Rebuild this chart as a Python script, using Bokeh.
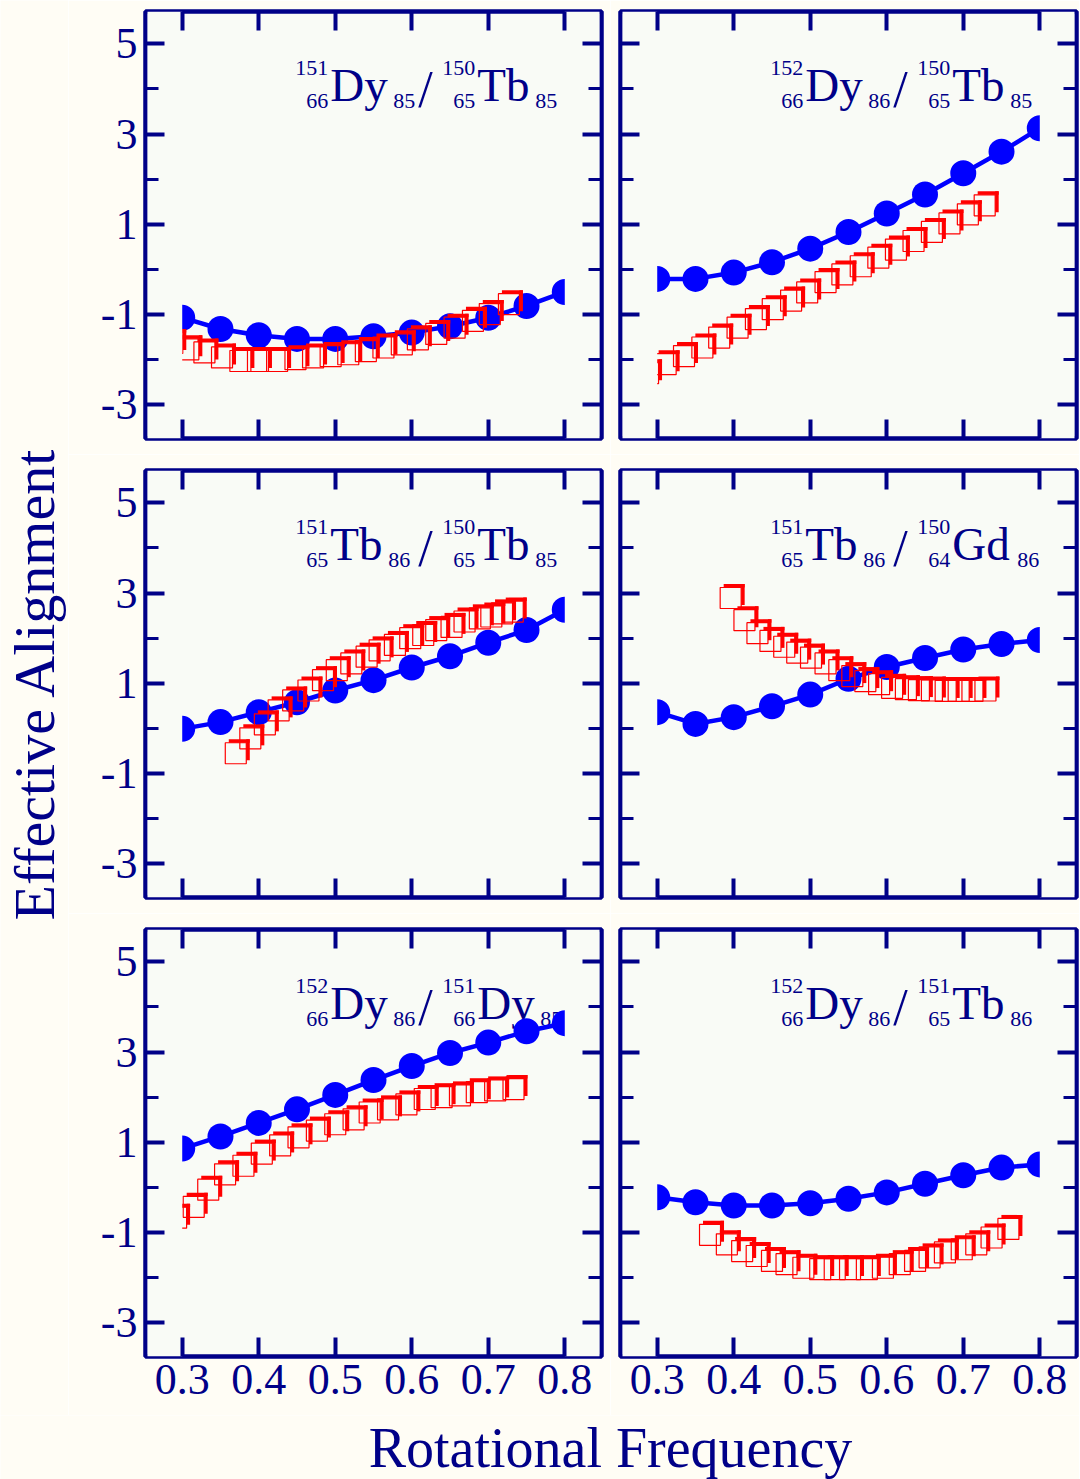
import math
from bokeh.plotting import figure
from bokeh.models import Range1d, FixedTicker, LinearAxis, ColumnDataSource
from bokeh.layouts import row, column
from bokeh.embed import file_html
from bokeh.resources import INLINE
from bokeh.core.properties import value
from bokeh.transform import dodge

# ---------------- data ----------------
omega = [0.30, 0.35, 0.40, 0.45, 0.50, 0.55, 0.60, 0.65, 0.70, 0.75, 0.80]

blue_1 = [-1.07, -1.32, -1.46, -1.54, -1.54, -1.48, -1.40, -1.26, -1.07, -0.81, -0.50]
blue_2 = [-0.21, -0.21, -0.07, 0.16, 0.46, 0.83, 1.24, 1.66, 2.13, 2.61, 3.13]
blue_3 = [-0.01, 0.14, 0.36, 0.58, 0.84, 1.07, 1.35, 1.60, 1.90, 2.18, 2.63]
blue_4 = [0.36, 0.10, 0.25, 0.49, 0.75, 1.10, 1.36, 1.56, 1.75, 1.87, 1.96]
blue_5 = [0.86, 1.13, 1.43, 1.73, 2.05, 2.38, 2.69, 2.98, 3.21, 3.46, 3.64]
blue_6 = [-0.22, -0.33, -0.40, -0.40, -0.35, -0.25, -0.11, 0.08, 0.27, 0.44, 0.51]

red_x_1 = [0.287, 0.308, 0.329, 0.352, 0.376, 0.399, 0.424, 0.448, 0.471, 0.494,
           0.517, 0.540, 0.563, 0.587, 0.608, 0.632, 0.656, 0.680, 0.702, 0.727]
red_y_1 = [-1.63, -1.77, -1.84, -1.95, -2.03, -2.03, -2.03, -1.99, -1.95, -1.92,
           -1.88, -1.81, -1.73, -1.66, -1.55, -1.43, -1.29, -1.14, -0.99, -0.77]

red_x_2 = [0.288, 0.311, 0.335, 0.359, 0.381, 0.405, 0.429, 0.451, 0.475, 0.496,
           0.520, 0.542, 0.566, 0.589, 0.612, 0.635, 0.659, 0.682, 0.706, 0.728]
red_y_2 = [-2.30, -2.10, -1.92, -1.73, -1.51, -1.29, -1.10, -0.88, -0.69, -0.51,
           -0.28, -0.11, 0.07, 0.26, 0.44, 0.63, 0.83, 1.02, 1.22, 1.42]

red_x_3 = [0.370, 0.389, 0.408, 0.426, 0.445, 0.465, 0.484, 0.502, 0.521, 0.541,
           0.558, 0.578, 0.598, 0.615, 0.632, 0.652, 0.669, 0.689, 0.704, 0.718, 0.732]
red_y_3 = [-0.55, -0.22, 0.09, 0.40, 0.62, 0.84, 1.07, 1.29, 1.44, 1.59,
           1.73, 1.85, 2.00, 2.07, 2.18, 2.25, 2.37, 2.44, 2.48, 2.55, 2.59]

red_x_4 = [0.396, 0.414, 0.431, 0.448, 0.466, 0.483, 0.501, 0.520, 0.538, 0.555,
           0.572, 0.590, 0.607, 0.625, 0.642, 0.659, 0.677, 0.694, 0.712, 0.729]
red_y_4 = [2.89, 2.40, 2.11, 1.94, 1.81, 1.68, 1.57, 1.44, 1.29, 1.16,
           1.05, 0.98, 0.90, 0.87, 0.85, 0.84, 0.83, 0.83, 0.83, 0.84]

red_x_5 = [0.292, 0.315, 0.334, 0.356, 0.380, 0.404, 0.428, 0.452, 0.476, 0.500,
           0.524, 0.545, 0.569, 0.593, 0.617, 0.639, 0.663, 0.685, 0.709, 0.733]
red_y_5 = [-0.67, -0.43, -0.05, 0.29, 0.48, 0.75, 0.93, 1.11, 1.26, 1.40,
           1.51, 1.66, 1.73, 1.84, 1.96, 2.00, 2.04, 2.11, 2.15, 2.18]

red_x_6 = [0.369, 0.391, 0.411, 0.430, 0.450, 0.469, 0.491, 0.513, 0.532, 0.552,
           0.574, 0.595, 0.617, 0.637, 0.656, 0.676, 0.698, 0.717, 0.737, 0.759]
red_y_6 = [-1.05, -1.26, -1.41, -1.52, -1.63, -1.70, -1.78, -1.81, -1.81, -1.81,
           -1.81, -1.78, -1.70, -1.63, -1.55, -1.44, -1.37, -1.26, -1.11, -0.92]

# (A1, Z1, symbol1, N1, A2, Z2, symbol2, N2)
title_1 = ["151", "66", "Dy", "85", "150", "65", "Tb", "85"]
title_2 = ["152", "66", "Dy", "86", "150", "65", "Tb", "85"]
title_3 = ["151", "65", "Tb", "86", "150", "65", "Tb", "85"]
title_4 = ["151", "65", "Tb", "86", "150", "64", "Gd", "86"]
title_5 = ["152", "66", "Dy", "86", "151", "66", "Dy", "85"]
title_6 = ["152", "66", "Dy", "86", "151", "65", "Tb", "86"]

x_ticks = [0.3, 0.4, 0.5, 0.6, 0.7, 0.8]
x_tick_labels = ["0.3", "0.4", "0.5", "0.6", "0.7", "0.8"]
y_ticks = [-3, -1, 1, 3, 5]
y_minor_ticks = [-2, 0, 2, 4]
y_tick_labels = ["-3", "-1", "1", "3", "5"]

x_title = "Rotational Frequency"
y_title = "Effective Alignment"

panels = [
    (blue_1, red_x_1, red_y_1, title_1),
    (blue_2, red_x_2, red_y_2, title_2),
    (blue_3, red_x_3, red_y_3, title_3),
    (blue_4, red_x_4, red_y_4, title_4),
    (blue_5, red_x_5, red_y_5, title_5),
    (blue_6, red_x_6, red_y_6, title_6),
]

# ---------------- style ----------------
NAVY = "#000088"
BLUE = "#0000ff"
RED = "#ff0000"
PAGE_BG = "#fffdf5"
PANEL_BG = "#f9fbf6"
FONT = "Liberation Serif"
MID = 0.3375  # em distance from alphabetic baseline to text middle

FW, FH = 456, 427
X0, X1 = 0.252, 0.848
Y0, Y1 = -3.747, 5.716
SX = (X1 - X0) / FW
SY = (Y1 - Y0) / FH

N_GAP = {"Dy": 63, "Tb": 58, "Gd": 65}

ROW_BOTTOM = [16, 16, 59]
ROW_H = [11 + FH + 16, 16 + FH + 16, 16 + FH + 59]
LEFT_W = 68
BOT_H = 64


def px_x(off):
    return x_ticks[0] + off * SX


def px_y(baseline_off, size):
    # place the middle of the text so that its baseline sits baseline_off px below frame top
    return Y1 - (baseline_off - MID * size) * SY


def make_axis(kind, show_labels):
    ax = LinearAxis()
    if kind == "x":
        ax.ticker = FixedTicker(ticks=x_ticks, minor_ticks=[])
        labels = x_tick_labels
        ticks = x_ticks
    else:
        ax.ticker = FixedTicker(ticks=y_ticks, minor_ticks=y_minor_ticks)
        labels = y_tick_labels
        ticks = y_ticks
    ax.axis_line_color = None
    ax.major_tick_in = 19
    ax.major_tick_out = 0
    ax.minor_tick_in = 13
    ax.minor_tick_out = 0
    ax.major_tick_line_color = NAVY
    ax.major_tick_line_width = 4
    ax.minor_tick_line_color = NAVY
    ax.minor_tick_line_width = 3
    if show_labels:
        ax.major_label_overrides = {t: l for t, l in zip(ticks, labels)}
        ax.major_label_text_font = FONT
        ax.major_label_text_font_size = "44px"
        ax.major_label_text_color = NAVY
        ax.major_label_standoff = 8
    else:
        ax.major_label_overrides = {t: "" for t in ticks}
        ax.major_label_text_font_size = "0px"
        ax.major_label_standoff = 0
    return ax


def make_panel(k, col, r):
    blue, rx, ry, title = panels[k]
    p = figure(
        frame_width=FW, frame_height=FH,
        x_range=Range1d(X0, X1), y_range=Range1d(Y0, Y1),
        min_border_left=77 if col == 0 else 10,
        min_border_right=9 if col == 0 else 3,
        min_border_top=11 if r == 0 else 16,
        min_border_bottom=ROW_BOTTOM[r],
        x_axis_location=None, y_axis_location=None,
        toolbar_location=None, output_backend="svg",
        background_fill_color=PANEL_BG, border_fill_color=PAGE_BG,
        outline_line_color=NAVY, outline_line_width=4.5,
    )
    p.grid.visible = False
    p.add_layout(make_axis("y", col == 0), "left")
    p.add_layout(make_axis("y", False), "right")
    p.add_layout(make_axis("x", False), "above")
    p.add_layout(make_axis("x", r == 2), "below")

    A1, Z1, S1, N1, A2, Z2, S2, N2 = title
    common = dict(text_font=value(FONT), text_color=NAVY, text_baseline="middle")
    p.text(x=[px_x(146), px_x(293)], y=[px_y(64, 22)] * 2, text=[A1, A2],
           text_align="right", text_font_size=value("22px"), **common)
    p.text(x=[px_x(146), px_x(293)], y=[px_y(97, 22)] * 2, text=[Z1, Z2],
           text_align="right", text_font_size=value("22px"), **common)
    p.text(x=[px_x(148), px_x(295)], y=[px_y(89, 47)] * 2, text=[S1, S2],
           text_align="left", text_font_size=value("47px"), **common)
    p.text(x=[px_x(148 + N_GAP[S1]), px_x(295 + N_GAP[S2])], y=[px_y(97, 22)] * 2,
           text=[N1, N2], text_align="left", text_font_size=value("22px"), **common)
    p.text(x=[px_x(236)], y=[px_y(96, 52)], text=["/"], text_align="left",
           text_font_size=value("52px"), **common)

    # blue: calculation (line + filled circles)
    p.line(omega, blue, line_color=BLUE, line_width=4.5)
    p.scatter(omega, blue, size=26, fill_color=BLUE, line_color=None)

    # red: open squares with a heavy offset shadow edge
    src = ColumnDataSource(dict(x=rx, y=ry))
    h, d = 10.5, 3.5
    p.rect(x=dodge("x", d * SX), y=dodge("y", (h + d / 2) * SY), width=2 * h, height=d,
           width_units="screen", height_units="screen", source=src,
           fill_color=RED, line_color=None)
    p.rect(x=dodge("x", (h + d / 2) * SX), y=dodge("y", d * SY), width=d, height=2 * h,
           width_units="screen", height_units="screen", source=src,
           fill_color=RED, line_color=None)
    p.scatter("x", "y", source=src, marker="square", size=2 * h,
              fill_color=None, line_color=RED, line_width=1.2)

    # clip drawing to the tick span [0.3, 0.8]
    p.quad(left=X0 + 2 * SX, right=x_ticks[0], bottom=Y0, top=Y1,
           fill_color=PANEL_BG, line_color=None)
    p.quad(left=x_ticks[-1], right=X1 - 2 * SX, bottom=Y0, top=Y1,
           fill_color=PANEL_BG, line_color=None)
    return p


figs = [make_panel(k, k % 2, k // 2) for k in range(6)]
grid = column(row(figs[0], figs[1]), row(figs[2], figs[3]), row(figs[4], figs[5]))

LEFT_H = sum(ROW_H)
leftfig = figure(width=LEFT_W, height=LEFT_H, x_range=Range1d(0, LEFT_W), y_range=Range1d(0, LEFT_H),
                 x_axis_type=None, y_axis_type=None, toolbar_location=None,
                 output_backend="svg", min_border=0, outline_line_color=None,
                 background_fill_color=PAGE_BG, border_fill_color=PAGE_BG)
leftfig.text(x=[34], y=[LEFT_H - 683], text=[y_title], angle=math.pi / 2,
             text_align="center", text_baseline="middle",
             text_font=value(FONT), text_font_size=value("58px"), text_color=NAVY)

BOT_W = LEFT_W + 542 + 469
botfig = figure(width=BOT_W, height=BOT_H, x_range=Range1d(0, BOT_W), y_range=Range1d(0, BOT_H),
                x_axis_type=None, y_axis_type=None, toolbar_location=None,
                output_backend="svg", min_border=0, outline_line_color=None,
                background_fill_color=PAGE_BG, border_fill_color=PAGE_BG)
botfig.text(x=[610], y=[BOT_H / 2], text=[x_title], text_align="center",
            text_baseline="middle", text_font=value(FONT),
            text_font_size=value("56px"), text_color=NAVY)

layout = column(row(leftfig, grid), botfig)

open("out.html", "w").write(file_html(layout, INLINE, title="Effective Alignment"))
